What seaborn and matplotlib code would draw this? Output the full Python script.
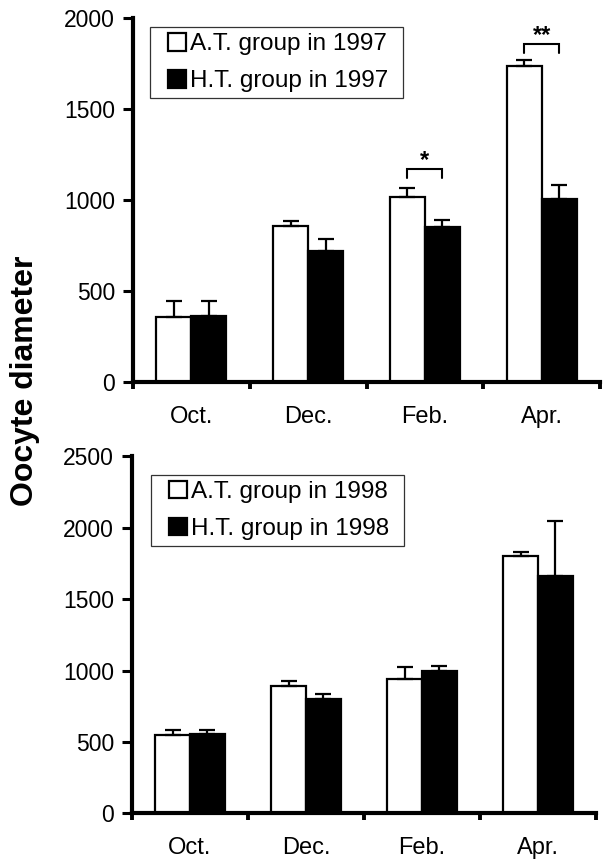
import matplotlib
matplotlib.use("Agg")
import matplotlib.pyplot as plt
from matplotlib.patches import Rectangle
import numpy as np
import pandas as pd
import seaborn as sns

# Sampling months
months = ["Oct.", "Dec.", "Feb.", "Apr."]

# 1997: ambient-temperature (A.T.) vs high-temperature (H.T.) groups
at_1997 = [355, 860, 1020, 1740]
at_1997_err = [90, 28, 46, 33]
ht_1997 = [362, 720, 855, 1005]
ht_1997_err = [82, 66, 37, 78]

# 1998
at_1998 = [550, 890, 940, 1800]
at_1998_err = [33, 35, 82, 28]
ht_1998 = [555, 800, 1000, 1665]
ht_1998_err = [28, 35, 34, 382]

# Significance brackets (1997 only)
sig_months = ["Feb.", "Apr."]
sig_marks = ["*", "**"]
sig_low = [1120, 1810]
sig_high = [1170, 1857]

y_max_1997, y_step_1997 = 2000, 500
y_max_1998, y_step_1998 = 2500, 500

sns.set_theme(style="white")
plt.rcParams["font.family"] = ["Liberation Sans", "DejaVu Sans"]
plt.rcParams["text.color"] = "black"
plt.rcParams["xtick.color"] = "black"
plt.rcParams["ytick.color"] = "black"
plt.rcParams["axes.labelcolor"] = "black"

fig = plt.figure(figsize=(6.12, 8.64), dpi=100)
ax_top = fig.add_axes([133 / 612, 1 - 382 / 864, (600 - 133) / 612, (382 - 18.3) / 864])
ax_bot = fig.add_axes([132 / 612, 1 - 813.3 / 864, (596 - 132) / 612, (813.3 - 456.3) / 864])


def draw_panel(ax, year, at_vals, at_err, ht_vals, ht_err, ymax, ystep, legend_anchor):
    at_label = f"A.T. group in {year}"
    ht_label = f"H.T. group in {year}"
    df = pd.DataFrame({
        "month": months * 2,
        "group": [at_label] * len(months) + [ht_label] * len(months),
        "value": list(at_vals) + list(ht_vals),
    })
    sns.barplot(data=df, x="month", y="value", hue="group", order=months,
                hue_order=[at_label, ht_label],
                palette={at_label: "white", ht_label: "black"},
                edgecolor="black", linewidth=1.6, width=0.6,
                errorbar=None, ax=ax)

    # one-sided (upper) error bars on each bar
    for cont, errs in zip(ax.containers, [at_err, ht_err]):
        xs = [p.get_x() + p.get_width() / 2 for p in cont.patches]
        hs = [p.get_height() for p in cont.patches]
        ax.errorbar(xs, hs, yerr=[np.zeros(len(errs)), errs], fmt="none",
                    ecolor="black", elinewidth=1.6, capsize=5.5, capthick=1.6,
                    zorder=1)

    ax.set_ylim(0, ymax)
    ax.set_xlim(-0.5, len(months) - 0.5)
    ax.set_yticks(np.arange(0, ymax + 1, ystep))
    ax.set_xticks(np.arange(-0.5, len(months), 1.0))
    ax.set_xticklabels([])
    ax.set_xticks(np.arange(len(months)), minor=True)
    ax.set_xticklabels(months, minor=True, fontsize=17)
    ax.tick_params(axis="x", which="major", direction="out", length=5,
                   width=2.8, color="black", bottom=True)
    ax.tick_params(axis="x", which="minor", length=0, pad=17, bottom=True)
    ax.tick_params(axis="y", direction="out", length=7, width=2.2,
                   color="black", labelsize=16.5, pad=6, left=True)
    ax.set_xlabel("")
    ax.set_ylabel("")
    for side in ["top", "right"]:
        ax.spines[side].set_visible(False)
    for side in ["left", "bottom"]:
        ax.spines[side].set_linewidth(3)
        ax.spines[side].set_color("black")

    handles, labels = ax.get_legend_handles_labels()
    if ax.get_legend() is not None:
        ax.get_legend().remove()
    leg = ax.legend(handles, labels, loc="upper left", bbox_to_anchor=legend_anchor,
                    borderaxespad=0, fontsize=17.5, frameon=False,
                    handlelength=0.75, handleheight=0.75, handletextpad=0.15,
                    labelspacing=0.6, borderpad=0)
    return leg


leg_top = draw_panel(ax_top, 1997, at_1997, at_1997_err, ht_1997, ht_1997_err,
                     y_max_1997, y_step_1997, (0.075, 0.960))
leg_bot = draw_panel(ax_bot, 1998, at_1998, at_1998_err, ht_1998, ht_1998_err,
                     y_max_1998, y_step_1998, (0.079, 0.932))

# significance brackets between paired bars
at_bars = ax_top.containers[0].patches
ht_bars = ax_top.containers[1].patches
for m, mark, lo, hi in zip(sig_months, sig_marks, sig_low, sig_high):
    i = months.index(m)
    x0 = at_bars[i].get_x() + at_bars[i].get_width() / 2
    x1 = ht_bars[i].get_x() + ht_bars[i].get_width() / 2
    ax_top.plot([x0, x0, x1, x1], [lo, hi, hi, lo], color="black", lw=1.5,
                solid_joinstyle="miter", clip_on=False)
    ax_top.annotate(mark, xy=((x0 + x1) / 2, hi), xytext=(0, 1.5),
                    textcoords="offset points", ha="center", va="baseline",
                    fontsize=17, fontweight="bold", color="black")

fig.text(25 / 612, 1 - 381 / 864, "Oocyte diameter", rotation=90,
         ha="center", va="center", fontsize=23, fontweight="bold",
         color="black")

# legend frames: wider side padding than top/bottom
fig.canvas.draw()
renderer = fig.canvas.get_renderer()
W, H = fig.bbox.width, fig.bbox.height
pad_l, pad_r, pad_v = 18, 15, 6
for leg in (leg_top, leg_bot):
    bb = leg.get_window_extent(renderer)
    x0 = (bb.x0 - pad_l) / W
    y0 = (bb.y0 - pad_v) / H
    w = (bb.width + pad_l + pad_r) / W
    h = (bb.height + 2 * pad_v) / H
    fig.add_artist(Rectangle((x0, y0), w, h, transform=fig.transFigure,
                             facecolor="none", edgecolor="#333333", lw=0.9))

fig.savefig("out.png", dpi=100, facecolor="white")
